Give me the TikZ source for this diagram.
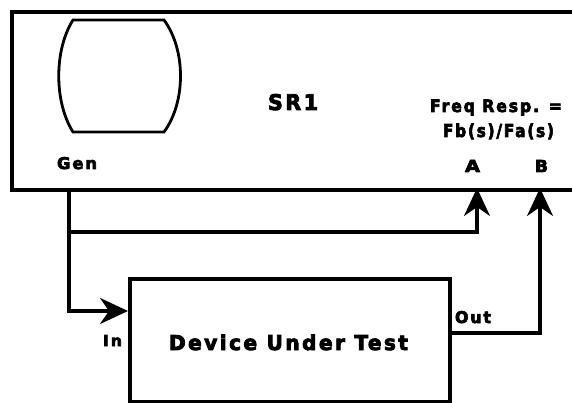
\documentclass[tikz,border=0pt]{standalone}
\usepackage{fontspec}
\newfontfamily\lblfont[LetterSpace=12,FakeBold=4]{DejaVu Sans}
\usetikzlibrary{arrows.meta}
\newcommand{\lbl}[3]{\resizebox{#1}{#2}{\lblfont\bfseries #3}}
\tikzset{
  wire/.style={line width=3.2pt, line join=miter},
  arr/.style={wire, -{Stealth[length=28pt,width=26pt,inset=9pt]}},
  boxed/.style={draw, line width=3.6pt, inner sep=0pt},
  txt/.style={inner sep=0pt, anchor=base},
}
\begin{document}
\begin{tikzpicture}[x=1pt,y=-1pt]
\useasboundingbox (0,0) rectangle (572,403);
\fill[white] (0,0) rectangle (572,403);
\clip (0,0) rectangle (572,403);
% SR1 instrument box (extends beyond right edge)
\node[boxed, minimum width=620pt, minimum height=178pt, anchor=north west] (sr) at (10,10) {};
% generator display
\draw[line width=2.8pt] (73,20) -- (164,20) .. controls (186,50) and (186,102) .. (164,132)
  -- (73,132) .. controls (54,102) and (54,50) .. (73,20) -- cycle;
% device under test
\node[boxed, minimum width=320pt, minimum height=123pt, anchor=north west] (dut) at (128,277) {};
% labels
\node[txt] (gen-l) at (77,169) {\lbl{40pt}{12pt}{Gen}};
\node[txt] (sr-l) at (293,110) {\lbl{50pt}{16pt}{SR1}};
\node[txt] (fr-l) at (496,112) {\lbl{132pt}{12.5pt}{Freq Resp. =}};
\node[txt] (fb-l) at (498.5,137) {\lbl{111pt}{13.5pt}{Fb(s)/Fa(s)}};
\node[txt] (a-l) at (472.5,172) {\lbl{15pt}{12pt}{A}};
\node[txt] (b-l) at (541.5,172) {\lbl{13pt}{12pt}{B}};
\node[txt] (out-l) at (473,323) {\lbl{36pt}{12pt}{Out}};
\node[txt] (in-l) at (112.5,346) {\lbl{19pt}{11pt}{In}};
\node[txt] (dut-l) at (288.5,350) {\lbl{239pt}{15.5pt}{Device Under Test}};
% connection points
\coordinate (gen) at (69,188);
\coordinate (split) at (69,232);
\coordinate (a) at (477,188);
\coordinate (b) at (540,188);
\coordinate (in) at (128,311);
\coordinate (out) at (448,333);
% connectors
\draw[arr] (gen) |- (in);
\draw[arr] (split) -| (a);
\draw[arr] (out) -| (b);
\end{tikzpicture}
\end{document}
